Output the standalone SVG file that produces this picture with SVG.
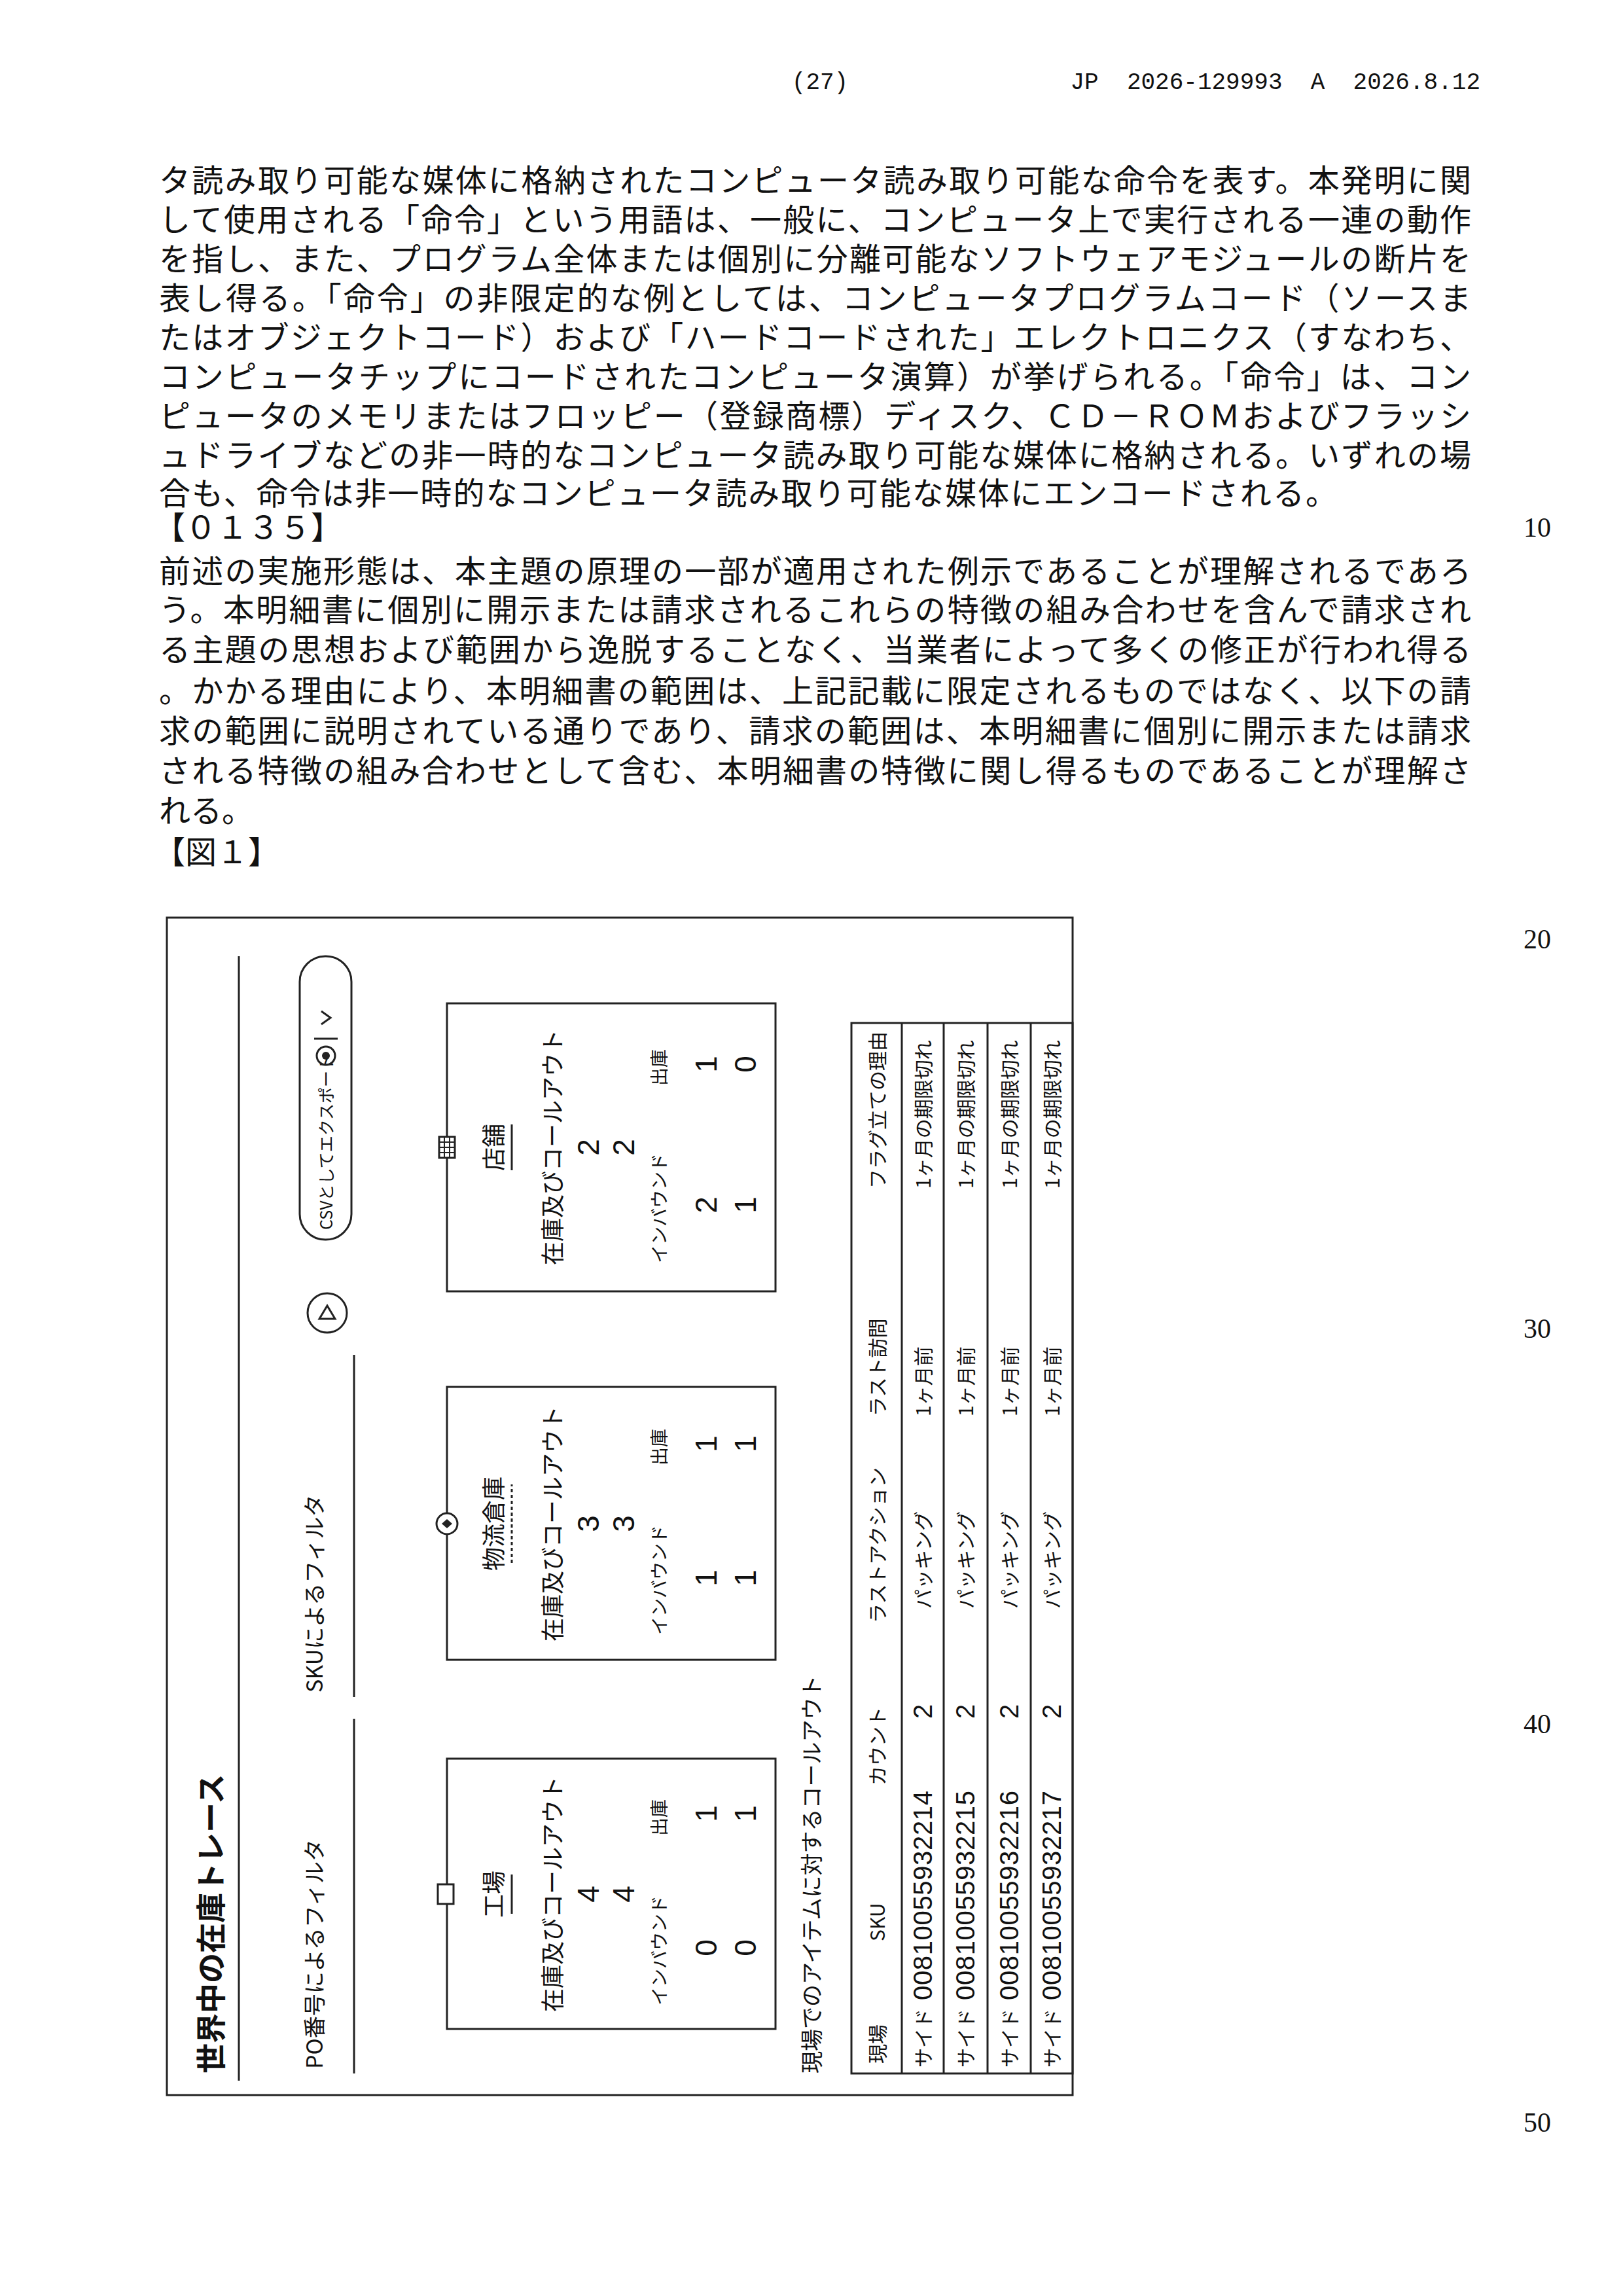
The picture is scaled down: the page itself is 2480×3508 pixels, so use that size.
<svg xmlns="http://www.w3.org/2000/svg" width="2480" height="3508" viewBox="0 0 2480 3508">
<style>
.b{font-family:"Noto Sans CJK JP","Noto Sans",sans-serif;font-size:48px;fill:#111}
.h{font-family:"Liberation Mono","DejaVu Sans Mono",monospace;font-size:36px;fill:#111}
.ln{font-family:"Liberation Serif",serif;font-size:42px;fill:#111}
.f{font-family:"Noto Sans CJK JP",sans-serif;fill:#111}
.t{font-size:34px}
.r{font-size:30px}
.c{font-size:36px}
.s{font-size:28px}
.n{font-family:"Liberation Sans",sans-serif;font-size:46px;fill:#111}
.d{font-family:"Liberation Sans",sans-serif;font-size:40px;fill:#111}
.k{fill:none;stroke:#222;stroke-width:3}
</style>
<rect width="2480" height="3508" fill="#fff"/>
<g id="header">
<text class="h" x="1253" y="136" text-anchor="middle">(27)</text>
<text class="h" x="2262" y="136" text-anchor="end" xml:space="preserve">JP  2026-129993  A  2026.8.12</text>
</g>
<g id="body">
<text class="b" x="243" y="293" textLength="2005">タ読み取り可能な媒体に格納されたコンピュータ読み取り可能な命令を表す。本発明に関</text>
<text class="b" x="243" y="353" textLength="2005">して使用される「命令」という用語は、一般に、コンピュータ上で実行される一連の動作</text>
<text class="b" x="243" y="413" textLength="2005">を指し、また、プログラム全体または個別に分離可能なソフトウェアモジュールの断片を</text>
<text class="b" x="243" y="473" textLength="2005">表し得る。「命令」の非限定的な例としては、コンピュータプログラムコード（ソースま</text>
<text class="b" x="243" y="533" textLength="2005">たはオブジェクトコード）および「ハードコードされた」エレクトロニクス（すなわち、</text>
<text class="b" x="243" y="593" textLength="2005">コンピュータチップにコードされたコンピュータ演算）が挙げられる。「命令」は、コン</text>
<text class="b" x="243" y="653" textLength="2005">ピュータのメモリまたはフロッピー（登録商標）ディスク、ＣＤ－ＲＯＭおよびフラッシ</text>
<text class="b" x="243" y="713" textLength="2005">ュドライブなどの非一時的なコンピュータ読み取り可能な媒体に格納される。いずれの場</text>
<text class="b" x="243" y="771" textLength="1800">合も、命令は非一時的なコンピュータ読み取り可能な媒体にエンコードされる。</text>
<text class="b" x="235" y="823">【０１３５】</text>
<text class="b" x="243" y="890" textLength="2005">前述の実施形態は、本主題の原理の一部が適用された例示であることが理解されるであろ</text>
<text class="b" x="243" y="949" textLength="2005">う。本明細書に個別に開示または請求されるこれらの特徴の組み合わせを含んで請求され</text>
<text class="b" x="243" y="1010" textLength="2005">る主題の思想および範囲から逸脱することなく、当業者によって多くの修正が行われ得る</text>
<text class="b" x="243" y="1073" textLength="2005">。かかる理由により、本明細書の範囲は、上記記載に限定されるものではなく、以下の請</text>
<text class="b" x="243" y="1134" textLength="2005">求の範囲に説明されている通りであり、請求の範囲は、本明細書に個別に開示または請求</text>
<text class="b" x="243" y="1195" textLength="2005">される特徴の組み合わせとして含む、本明細書の特徴に関し得るものであることが理解さ</text>
<text class="b" x="243" y="1256">れる。</text>
<text class="b" x="235" y="1319">【図１】</text>
</g>
<g id="linenums">
<text class="ln" x="2349" y="820" text-anchor="middle">10</text>
<text class="ln" x="2349" y="1449" text-anchor="middle">20</text>
<text class="ln" x="2349" y="2044" text-anchor="middle">30</text>
<text class="ln" x="2349" y="2648" text-anchor="middle">40</text>
<text class="ln" x="2349" y="3257" text-anchor="middle">50</text>
</g>
<g id="figure" transform="translate(255,3201) rotate(-90)">
<rect class="k" x="0" y="0" width="1799" height="1384"/>
<g id="titlebar">
<text class="f" x="33" y="84" font-size="46" font-weight="bold">世界中の在庫トレース</text>
<line class="k" x1="22" y1="110" x2="1740" y2="110"/>
</g>
<g id="filters">
<text class="f t" x="40" y="238">PO番号によるフィルタ</text>
<line class="k" x1="33" y1="286" x2="575" y2="286"/>
<text class="f t" x="615" y="238">SKUによるフィルタ</text>
<line class="k" x1="608" y1="286" x2="1131" y2="286"/>
<circle class="k" cx="1195" cy="245" r="30"/>
<path class="k" d="M1186,233 L1206,245 L1186,257 Z" stroke-width="2.5"/>
</g>
<g id="csv">
<rect class="k" x="1307" y="203" width="433" height="79" rx="39"/>
<text class="f" x="1322" y="253" font-size="25">CSVとしてエクスポート</text>
<circle class="k" cx="1588" cy="243" r="14" stroke-width="2.5"/>
<circle cx="1588" cy="243" r="6" fill="#222"/>
<line class="k" x1="1614" y1="225" x2="1614" y2="261"/>
<path class="k" d="M1636,236 L1646,250 L1656,236"/>
</g>
<g id="card-factory">
<rect class="k" x="101" y="428" width="413" height="502"/>
<rect x="292" y="414" width="30" height="24" fill="#fff" stroke="#222" stroke-width="3"/>
<text class="f c" x="307" y="513" text-anchor="middle">工場</text>
<line class="k" x1="277" y1="527" x2="337" y2="527"/>
<text class="f c" x="307" y="603" text-anchor="middle">在庫及びコールアウト</text>
<text class="n" x="307" y="660" text-anchor="middle">4</text>
<text class="n" x="307" y="714" text-anchor="middle">4</text>
<text class="f s" x="221" y="763" text-anchor="middle">インバウンド</text>
<text class="f s" x="424" y="763" text-anchor="middle">出庫</text>
<text class="n" x="225" y="840" text-anchor="middle">0</text>
<text class="n" x="225" y="900" text-anchor="middle">0</text>
<text class="n" x="430" y="840" text-anchor="middle">1</text>
<text class="n" x="430" y="900" text-anchor="middle">1</text>
</g>
<g id="card-warehouse">
<rect class="k" x="665" y="428" width="417" height="502"/>
<circle cx="873" cy="428" r="16" fill="#fff" stroke="#222" stroke-width="3"/>
<path d="M873,420 L880,428 L873,436 L866,428 Z" fill="#222"/>
<text class="f c" x="873" y="513" text-anchor="middle">物流倉庫</text>
<line class="k" x1="813" y1="527" x2="933" y2="527" stroke-dasharray="5 4"/>
<text class="f c" x="873" y="603" text-anchor="middle">在庫及びコールアウト</text>
<text class="n" x="873" y="660" text-anchor="middle">3</text>
<text class="n" x="873" y="714" text-anchor="middle">3</text>
<text class="f s" x="787" y="763" text-anchor="middle">インバウンド</text>
<text class="f s" x="990" y="763" text-anchor="middle">出庫</text>
<text class="n" x="790" y="840" text-anchor="middle">1</text>
<text class="n" x="790" y="900" text-anchor="middle">1</text>
<text class="n" x="995" y="840" text-anchor="middle">1</text>
<text class="n" x="995" y="900" text-anchor="middle">1</text>
</g>
<g id="card-store">
<rect class="k" x="1228" y="428" width="440" height="502"/>
<rect x="1432" y="416" width="32" height="24" fill="#fff" stroke="#222" stroke-width="3"/>
<path d="M1432,424 H1464 M1432,432 H1464 M1440,416 V440 M1448,416 V440 M1456,416 V440" stroke="#222" stroke-width="2"/>
<text class="f c" x="1448" y="513" text-anchor="middle">店舗</text>
<line class="k" x1="1413" y1="527" x2="1483" y2="527"/>
<text class="f c" x="1448" y="603" text-anchor="middle">在庫及びコールアウト</text>
<text class="n" x="1448" y="660" text-anchor="middle">2</text>
<text class="n" x="1448" y="714" text-anchor="middle">2</text>
<text class="f s" x="1355" y="763" text-anchor="middle">インバウンド</text>
<text class="f s" x="1570" y="763" text-anchor="middle">出庫</text>
<text class="n" x="1360" y="840" text-anchor="middle">2</text>
<text class="n" x="1360" y="900" text-anchor="middle">1</text>
<text class="n" x="1575" y="840" text-anchor="middle">1</text>
<text class="n" x="1575" y="900" text-anchor="middle">0</text>
</g>
<g id="callouts">
<text class="f t" x="33" y="998">現場でのアイテムに対するコールアウト</text>
<rect class="k" x="33" y="1046" width="1605" height="338"/>
<line class="k" x1="33" y1="1123" x2="1638" y2="1123"/>
<line class="k" x1="33" y1="1187" x2="1638" y2="1187"/>
<line class="k" x1="33" y1="1254" x2="1638" y2="1254"/>
<line class="k" x1="33" y1="1320" x2="1638" y2="1320"/>
<g class="f r">
<text x="48" y="1097">現場</text><text x="235" y="1097">SKU</text><text x="473" y="1097">カウント</text><text x="721" y="1097">ラストアクション</text><text x="1037" y="1097">ラスト訪問</text><text x="1385" y="1097">フラグ立ての理由</text>
<text x="42" y="1167">サイド</text><text x="743" y="1167">パッキング</text><text x="1037" y="1167">1ヶ月前</text><text x="1385" y="1167">1ヶ月の期限切れ</text>
<text x="42" y="1232">サイド</text><text x="743" y="1232">パッキング</text><text x="1037" y="1232">1ヶ月前</text><text x="1385" y="1232">1ヶ月の期限切れ</text>
<text x="42" y="1299">サイド</text><text x="743" y="1299">パッキング</text><text x="1037" y="1299">1ヶ月前</text><text x="1385" y="1299">1ヶ月の期限切れ</text>
<text x="42" y="1364">サイド</text><text x="743" y="1364">パッキング</text><text x="1037" y="1364">1ヶ月前</text><text x="1385" y="1364">1ヶ月の期限切れ</text>
</g>
<text class="d" x="145" y="1169" textLength="320">00810055932214</text>
<text class="d" x="145" y="1234" textLength="320">00810055932215</text>
<text class="d" x="145" y="1301" textLength="320">00810055932216</text>
<text class="d" x="145" y="1366" textLength="320">00810055932217</text>
<text class="d" x="575" y="1169">2</text><text class="d" x="575" y="1234">2</text><text class="d" x="575" y="1301">2</text><text class="d" x="575" y="1366">2</text>
</g>
</g>
</svg>
